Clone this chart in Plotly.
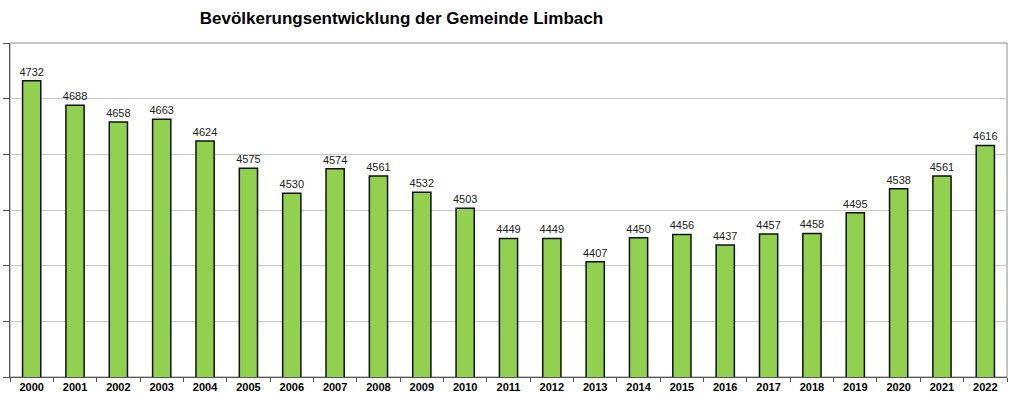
import plotly.graph_objects as go

years = [str(y) for y in range(2000, 2023)]
population = [4732, 4688, 4658, 4663, 4624, 4575, 4530, 4574, 4561, 4532, 4503,
              4449, 4449, 4407, 4450, 4456, 4437, 4457, 4458, 4495, 4538, 4561, 4616]
y_range = [4200, 4800]
y_step = 100

fig = go.Figure(go.Bar(
    x=years, y=population,
    width=0.42,
    marker=dict(color="#92D050", line=dict(color="#111111", width=1.5)),
    text=[str(v) for v in population],
    textposition="outside",
    constraintext="none",
    textfont=dict(family="Liberation Sans, Arial", size=11, color="#222222"),
    cliponaxis=False,
))

fig.update_layout(
    width=1024, height=396,
    margin=dict(l=10, r=17, t=43, b=19, autoexpand=False),
    paper_bgcolor="white", plot_bgcolor="white",
    showlegend=False,
    title=dict(text="<b>Bevölkerungsentwicklung der Gemeinde Limbach</b>",
               x=0.392, xanchor="center", y=0.955, yanchor="middle",
               font=dict(family="Liberation Sans, Arial", size=17, color="#000000")),
    xaxis=dict(type="category", range=[-0.5, 22.5], automargin=False,
               showline=True, linecolor="#555555", linewidth=1,
               ticks="outside", tickson="boundaries", ticklen=4, tickcolor="#555555",
               tickfont=dict(family="Liberation Sans, Arial", size=11, color="#000000", weight="bold"),
               showgrid=False, mirror=False),
    yaxis=dict(range=y_range, dtick=y_step, showticklabels=False, automargin=False,
               showline=True, linecolor="#555555", linewidth=1,
               ticks="outside", ticklen=6, tickcolor="#555555",
               showgrid=True, gridcolor="#C8C8C8", gridwidth=1,
               zeroline=False),
    shapes=[dict(type="rect", xref="paper", yref="paper", x0=0, x1=1, y0=0, y1=1,
                 line=dict(color="#8C8C8C", width=1), fillcolor="rgba(0,0,0,0)", layer="below")],
    bargap=0.58,
)

fig.write_html("out.html",
               config={"displayModeBar": False, "staticPlot": True},
               post_script="document.body.style.margin='0';document.body.style.overflow='hidden';")
